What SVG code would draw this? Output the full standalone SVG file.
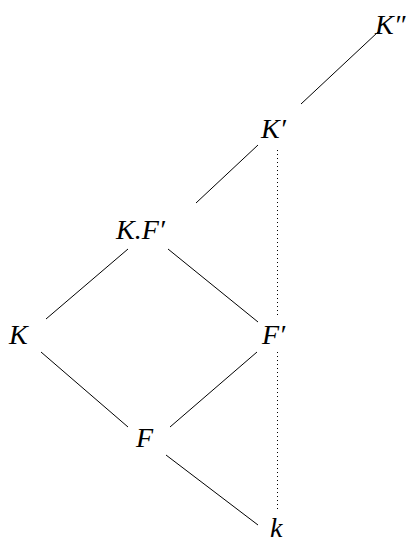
<svg xmlns="http://www.w3.org/2000/svg" width="411" height="544" viewBox="0 0 411 544">
<style>
.n{font-family:"Liberation Serif","Times New Roman",serif;font-style:italic;font-size:28px;fill:#000}
.e{stroke:#000;stroke-width:1;fill:none}
.d{stroke:#000;stroke-width:1;fill:none;stroke-dasharray:1 3}
</style>
<rect width="411" height="544" fill="#fff"/>
<g id="edges">
<line class="e" x1="378" y1="32" x2="301" y2="104"/>
<line class="e" x1="258" y1="145" x2="196" y2="203"/>
<line class="e" x1="128" y1="249" x2="46" y2="319"/>
<line class="e" x1="168" y1="249" x2="258" y2="322"/>
<line class="e" x1="41" y1="352" x2="128" y2="427"/>
<line class="e" x1="257" y1="352" x2="170" y2="427"/>
<line class="e" x1="166" y1="455" x2="258" y2="525"/>
<line class="d" x1="277.5" y1="150" x2="277.5" y2="318"/>
<line class="d" x1="277.5" y1="352" x2="277.5" y2="512"/>
</g>
<g id="Kpp"><text class="n" x="375" y="34">K″</text></g>
<g id="Kp"><text class="n" x="261" y="138">K′</text></g>
<g id="KFp"><text class="n" x="116" y="239">K.F′</text></g>
<g id="K"><text class="n" x="9" y="344">K</text></g>
<g id="Fp"><text class="n" x="262" y="344">F′</text></g>
<g id="F"><text class="n" x="136" y="447">F</text></g>
<g id="k"><text class="n" x="270" y="537">k</text></g>
</svg>
